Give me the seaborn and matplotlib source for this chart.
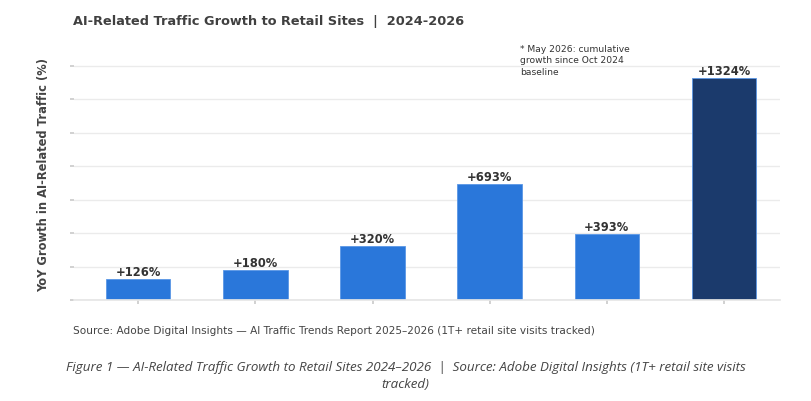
import pandas as pd
import matplotlib.pyplot as plt
import seaborn as sns

sns.set_theme(style="white")
plt.rcParams['font.family'] = ['DejaVu Sans']

# dati
periods = ['P1', 'P2', 'P3', 'P4', 'P5', 'P6']
growth = [126, 180, 320, 693, 393, 1324]
bar_labels = ['+126%', '+180%', '+320%', '+693%', '+393%', '+1324%']
y_ticks = [0, 200, 400, 600, 800, 1000, 1200, 1400]

df = pd.DataFrame({'period': periods, 'growth': growth})
palette = ['#2A77DA'] * 5 + ['#1B3A6C']

fig = plt.figure(figsize=(8.11, 4.02), dpi=100)
ax = fig.add_axes([0.091, 0.251, 0.871, 0.625])

sns.barplot(data=df, x='period', y='growth', hue='period', palette=palette,
            width=0.55, legend=False, ax=ax, saturation=1,
            edgecolor='#5a97e6', linewidth=0.6)

for p, lab in zip(ax.patches, bar_labels):
    ax.text(p.get_x() + p.get_width() / 2, p.get_height() + 6, lab,
            ha='center', va='bottom', fontsize=8.3, fontweight='bold', color='#333333')

ax.set_ylim(0, 1500)
ax.set_xlim(-0.55, 5.48)
ax.set_yticks(y_ticks)
ax.set_yticklabels([''] * len(y_ticks))
ax.set_xticks(range(len(periods)))
ax.set_xticklabels([''] * len(periods))
ax.yaxis.grid(True, color='#ebebeb', linewidth=1)
ax.set_axisbelow(True)
ax.tick_params(axis='y', length=3, color='#cccccc', pad=0, left=True)
ax.tick_params(axis='x', length=3, color='#cccccc', bottom=True)
for s in ['top', 'right', 'left']:
    ax.spines[s].set_visible(False)
ax.spines['bottom'].set_color('#e6e6e6')
ax.set_xlabel('')
ax.set_ylabel('YoY Growth in AI-Related Traffic (%)', fontsize=8.3, fontweight='bold',
              color='#444444', labelpad=14)

fig.text(520 / 811, 1 - 45 / 402, '* May 2026: cumulative\ngrowth since Oct 2024\nbaseline',
         fontsize=6.6, color='#333333', va='top', ha='left', linespacing=1.35)

fig.text(73 / 811, 1 - 21 / 402, 'AI-Related Traffic Growth to Retail Sites  |  2024-2026',
         fontsize=9.3, fontweight='bold', color='#404040', va='center', ha='left')

fig.text(73 / 811, 1 - 331 / 402,
         'Source: Adobe Digital Insights — AI Traffic Trends Report 2025–2026 (1T+ retail site visits tracked)',
         fontsize=7.6, color='#444444', va='center', ha='left')

fig.text(0.5, 1 - 376 / 402,
         'Figure 1 — AI-Related Traffic Growth to Retail Sites 2024–2026  |  Source: Adobe Digital Insights (1T+ retail site visits\ntracked)',
         fontsize=9.6, style='italic', color='#444444', va='center', ha='center',
         family=['Open Sans', 'DejaVu Sans'], linespacing=1.4)

fig.savefig('out.png', dpi=100)
